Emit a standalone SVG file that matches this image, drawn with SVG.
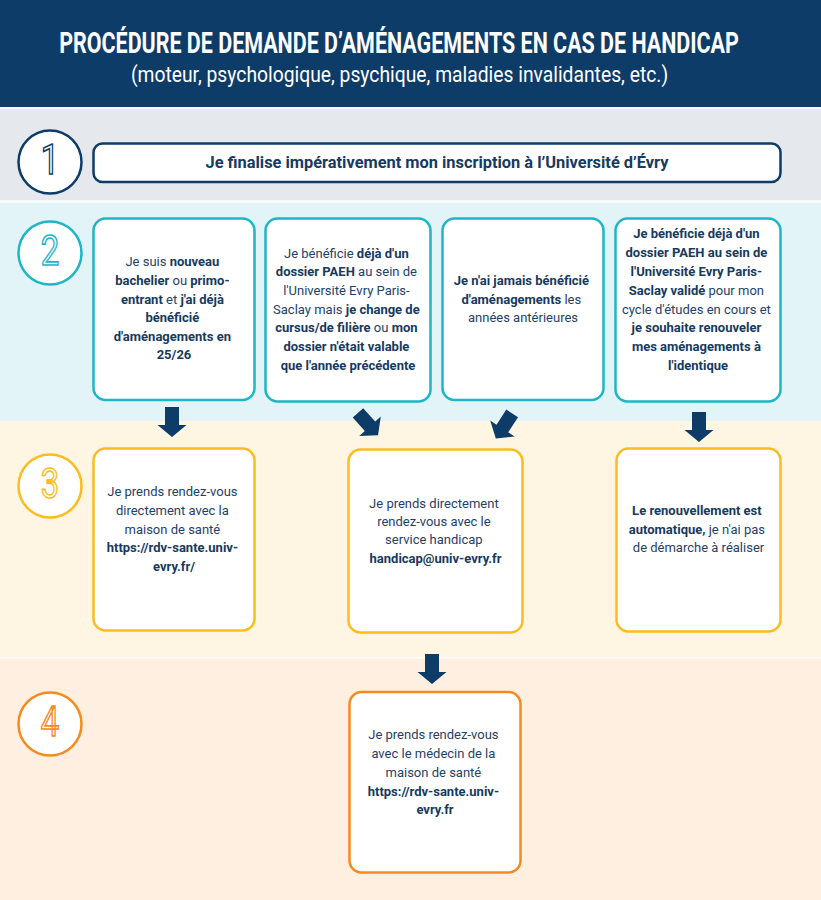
<svg xmlns="http://www.w3.org/2000/svg" width="821" height="900" viewBox="0 0 821 900">
<defs>
<style>
.t{font-family:Roboto,"Liberation Sans",sans-serif;font-size:13px;fill:#1f4168;text-anchor:middle}
.b{font-weight:bold;fill:#163a60}
.box{fill:#fff;stroke-width:2.5}
.cy{stroke:#1cb6c6}.ye{stroke:#fcbc1f}.or{stroke:#f78a1d}.nv{stroke:#0d3c68}
.circ{fill:#fff;stroke-width:2.5}
.num{font-family:Roboto,"Liberation Sans",sans-serif;font-size:42px;fill:#fff;stroke-width:1.6;text-anchor:middle}
.arr{fill:#0d3c68}
</style>
<path id="arrow" d="M-7,-15 H7 V3 H14.5 L0,15 L-14.5,3 H-7 Z"/>
</defs>

<!-- background bands -->
<rect x="0" y="0" width="821" height="107" fill="#0d3c68"/>
<rect x="0" y="107" width="821" height="2" fill="#f3f5f7"/>
<rect x="0" y="109" width="821" height="91" fill="#e5e9ed"/>
<rect x="0" y="200" width="821" height="3" fill="#f5fbfc"/>
<rect x="0" y="203" width="821" height="218" fill="#e2f4f8"/>
<rect x="0" y="421" width="821" height="236" fill="#fff5e3"/>
<rect x="0" y="657" width="821" height="2" fill="#fffaf5"/>
<rect x="0" y="659" width="821" height="241" fill="#feefe1"/>

<g id="header">
<text transform="translate(399,53) scale(0.7,1)" x="0" y="0" font-family="Roboto,'Liberation Sans',sans-serif" font-weight="bold" font-size="30" fill="#fff" text-anchor="middle" textLength="971" lengthAdjust="spacingAndGlyphs">PROCÉDURE DE DEMANDE D’AMÉNAGEMENTS EN CAS DE HANDICAP</text>
<text transform="translate(399.5,82) scale(0.85,1)" x="0" y="0" font-family="Roboto,'Liberation Sans',sans-serif" font-size="22" fill="#fff" text-anchor="middle" textLength="632" lengthAdjust="spacingAndGlyphs">(moteur, psychologique, psychique, maladies invalidantes, etc.)</text>
</g>

<!-- step circles -->
<g id="step1">
<circle cx="50" cy="162" r="31.5" class="circ nv"/>
<text transform="translate(50,174) scale(0.78,1)" class="num nv">1</text>
</g>
<g id="step2">
<circle cx="50" cy="253" r="31.5" class="circ cy"/>
<text transform="translate(50,265) scale(0.78,1)" class="num cy">2</text>
</g>
<g id="step3">
<circle cx="50" cy="486" r="31.5" class="circ ye"/>
<text transform="translate(50,498) scale(0.78,1)" class="num ye">3</text>
</g>
<g id="step4">
<circle cx="50" cy="724" r="31.5" class="circ or"/>
<text transform="translate(50,736) scale(0.78,1)" class="num or">4</text>
</g>

<!-- step 1 box -->
<g id="box1">
<rect x="93.5" y="143.5" width="687" height="38.5" rx="9" class="box nv"/>
<text x="437" y="168" font-family="Roboto,'Liberation Sans',sans-serif" font-weight="bold" font-size="16" fill="#163a60" text-anchor="middle" textLength="463" lengthAdjust="spacingAndGlyphs">Je finalise impérativement mon inscription à l’Université d’Évry</text>
</g>

<!-- step 2 boxes -->
<g id="boxA">
<rect x="93.5" y="218.5" width="161" height="181.5" rx="12" class="box cy"/>
<text class="t">
<tspan x="174" y="265.5">Je suis <tspan class="b">nouveau</tspan></tspan>
<tspan x="174" y="284.5"><tspan class="b">bachelier</tspan> ou <tspan class="b">primo-</tspan></tspan>
<tspan x="174" y="303.5"><tspan class="b">entrant</tspan> et <tspan class="b">j'ai déjà</tspan></tspan>
<tspan x="174" y="321.5" class="b">bénéficié</tspan>
<tspan x="174" y="340.5" class="b">d'aménagements en</tspan>
<tspan x="174" y="358.5" class="b">25/26</tspan>
</text>
</g>
<g id="boxB">
<rect x="265.5" y="218.5" width="165" height="183" rx="12" class="box cy"/>
<text class="t">
<tspan x="348" y="257.5">Je bénéficie <tspan class="b">déjà d'un</tspan></tspan>
<tspan x="348" y="275.5"><tspan class="b">dossier PAEH</tspan> au sein de</tspan>
<tspan x="348" y="294.5">l'Université Evry Paris-</tspan>
<tspan x="348" y="313.5">Saclay mais <tspan class="b">je change de</tspan></tspan>
<tspan x="348" y="331.5"><tspan class="b">cursus/de filière</tspan> ou <tspan class="b">mon</tspan></tspan>
<tspan x="348" y="350.5" class="b">dossier n'était valable</tspan>
<tspan x="348" y="369.5" class="b">que l'année précédente</tspan>
</text>
</g>
<g id="boxC">
<rect x="442.5" y="218.5" width="161" height="181.5" rx="12" class="box cy"/>
<text class="t">
<tspan x="523" y="284.5" class="b">Je n'ai jamais bénéficié</tspan>
<tspan x="523" y="303.5"><tspan class="b">d'aménagements</tspan> les</tspan>
<tspan x="523" y="321.5">années antérieures</tspan>
</text>
</g>
<g id="boxD">
<rect x="615.5" y="218.5" width="165" height="183" rx="12" class="box cy"/>
<text class="t">
<tspan x="698" y="237.5" class="b">Je bénéficie déjà d'un</tspan>
<tspan x="698" y="256.5" class="b">dossier PAEH au sein de</tspan>
<tspan x="698" y="275.5" class="b">l'Université Evry Paris-</tspan>
<tspan x="698" y="294.5"><tspan class="b">Saclay validé</tspan> pour mon</tspan>
<tspan x="698" y="313.5">cycle d'études en cours et</tspan>
<tspan x="698" y="331.5" class="b">je souhaite renouveler</tspan>
<tspan x="698" y="350.5" class="b">mes aménagements à</tspan>
<tspan x="698" y="369.5" class="b">l'identique</tspan>
</text>
</g>

<!-- step 3 boxes -->
<g id="boxE">
<rect x="93.5" y="448.5" width="161" height="182" rx="12" class="box ye"/>
<text class="t">
<tspan x="174" y="495.5">Je prends rendez-vous</tspan>
<tspan x="174" y="514.5">directement avec la</tspan>
<tspan x="174" y="533.5">maison de santé</tspan>
<tspan x="174" y="551.5" class="b">https://rdv-sante.univ-</tspan>
<tspan x="174" y="570.5" class="b">evry.fr/</tspan>
</text>
</g>
<g id="boxF">
<rect x="348.5" y="449.5" width="174" height="183" rx="12" class="box ye"/>
<text class="t">
<tspan x="435.5" y="507.5">Je prends directement</tspan>
<tspan x="435.5" y="525.5">rendez-vous avec le</tspan>
<tspan x="435.5" y="543.5">service handicap</tspan>
<tspan x="435.5" y="562.5" class="b">handicap@univ-evry.fr</tspan>
</text>
</g>
<g id="boxG">
<rect x="616.5" y="448.5" width="164" height="183" rx="12" class="box ye"/>
<text class="t">
<tspan x="698.5" y="514.5" class="b">Le renouvellement est</tspan>
<tspan x="698.5" y="533.5"><tspan class="b">automatique,</tspan> je n'ai pas</tspan>
<tspan x="698.5" y="551.5">de démarche à réaliser</tspan>
</text>
</g>

<!-- step 4 box -->
<g id="boxH">
<rect x="349.5" y="692" width="171" height="180.5" rx="12" stroke-width="3" class="box or"/>
<text class="t">
<tspan x="435" y="738.5">Je prends rendez-vous</tspan>
<tspan x="435" y="757.5">avec le médecin de la</tspan>
<tspan x="435" y="776.5">maison de santé</tspan>
<tspan x="435" y="795.5" class="b">https://rdv-sante.univ-</tspan>
<tspan x="435" y="813.5" class="b">evry.fr</tspan>
</text>
</g>

<!-- connectors -->
<g id="connectors" class="arr">
<use href="#arrow" transform="translate(172,422)"/>
<use href="#arrow" transform="translate(368,424) rotate(-42)"/>
<use href="#arrow" transform="translate(504,426) rotate(33)"/>
<use href="#arrow" transform="translate(699,427)"/>
<use href="#arrow" transform="translate(432,669)"/>
</g>
</svg>
